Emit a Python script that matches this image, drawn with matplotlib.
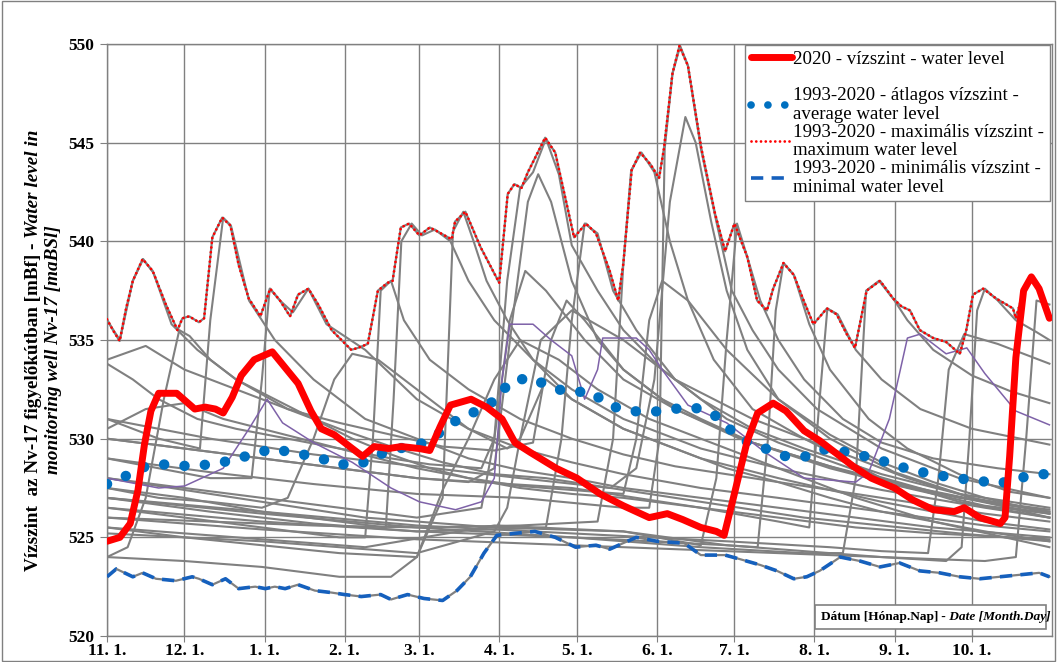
import numpy as np
import matplotlib
matplotlib.use("Agg")
import matplotlib.pyplot as plt
from matplotlib.lines import Line2D
from matplotlib.patches import Rectangle

GRAY = "#808080"; RED = "#FF0000"; BLUE = "#0070C0"; BLUE_MIN = "#1560BD"; PURPLE = "#7E62A8"
plt.rcParams.update({"font.family": "serif", "font.serif": ["Liberation Serif", "DejaVu Serif"]})

# x = day of the hydrological year (11.1. = 0)
MONTH_DAYS = [0, 30, 61, 92, 121, 152, 182, 213, 243, 274, 305, 335]
MONTH_LABELS = ["11. 1.", "12. 1.", "1. 1.", "2. 1.", "3. 1.", "4. 1.", "5. 1.", "6. 1.",
                "7. 1.", "8. 1.", "9. 1.", "10. 1."]

# 2020 water level
red_days = [0, 5, 9, 12, 14.5, 17, 20, 27, 30.5, 34, 38, 42, 45, 48.5, 52, 57, 64, 69, 74, 79, 83, 88,
            95, 99, 103.5, 109, 114, 121, 125, 129, 133, 141, 147, 153, 158, 164, 174, 182, 191, 200,
            210, 217, 223, 230, 236, 239, 242.6, 248, 252, 258, 263, 270, 276, 283, 289, 296, 305, 312,
            320, 328, 332, 338, 346, 347.8, 349.6, 352, 355, 358, 361, 365]
red_vals = [524.8, 525.0, 525.7, 527.4, 529.7, 531.4, 532.3, 532.3, 531.9, 531.5, 531.6, 531.5, 531.3,
            532.1, 533.2, 534.0, 534.4, 533.6, 532.8, 531.4, 530.5, 530.2, 529.5, 529.1, 529.6, 529.5,
            529.6, 529.5, 529.4, 530.6, 531.7, 532.0, 531.6, 531.0, 529.8, 529.3, 528.5, 528.0, 527.2,
            526.6, 526.0, 526.2, 525.9, 525.5, 525.3, 525.1, 527.0, 529.9, 531.3, 531.8, 531.4, 530.4,
            529.9, 529.2, 528.6, 528.0, 527.5, 526.9, 526.4, 526.3, 526.5, 526.0, 525.7, 526.0, 529.1,
            534.1, 537.5, 538.2, 537.6, 536.1]

# 1993-2020 average
avg_days = [0, 8, 15.8, 23.5, 31.8, 40, 48.5, 56, 64.5, 72.8, 81, 89, 97.8, 105.5, 113, 121, 129.6, 136,
            144, 151, 156, 164.4, 171.7, 179.5, 187.4, 194, 202.6, 211, 219, 227, 234.8, 241, 247, 255,
            263, 271, 278.8, 287, 295.5, 303.6, 311.6, 320, 328, 336.7, 345, 353, 361, 365]
avg_vals = [527.7, 528.15, 528.65, 528.7, 528.6, 528.7, 528.9, 529.2, 529.5, 529.25, 529.1, 528.7, 528.7,
            529.2, 529.5, 529.7, 530.35, 531.0, 531.45, 532.0, 532.9, 533.1, 532.6, 532.35, 532.4, 531.7,
            531.4, 531.35, 531.5, 531.6, 531.25, 530.5, 529.9, 529.5, 529.1, 529.1, 529.5, 529.3, 529.05,
            528.75, 528.4, 528.2, 528.0, 527.9, 527.7, 528.0, 528.2, 528.2]

# 1993-2020 maximum
max_days = [0, 2.3, 4.9, 7.4, 10, 13.8, 17.7, 22.8, 27.3, 29.2, 31.8, 35.6, 37.6, 40.8, 44.6, 47.8, 51,
            54.9, 59.4, 63.2, 67, 70.9, 74, 78, 81.8, 87, 90.8, 94.6, 97.2, 101, 104.9, 108.7, 110.6,
            113.8, 117, 121, 125, 128, 133.5, 134.8, 138.8, 144.7, 151.9, 155.2, 157.8, 160.5, 163,
            169.7, 173.6, 180.9, 185.5, 189.4, 194.7, 198, 200, 203.2, 206.5, 210.5, 213.8, 215.7, 219,
            221.7, 225, 230.2, 235.5, 239.4, 243, 248, 251.8, 255.6, 258, 262, 266, 269.8, 273.6, 278.8,
            282.6, 286.5, 289.7, 294.2, 299.4, 304.5, 307.7, 311, 314.8, 320, 325, 330.3, 332.8, 335.4,
            339.3, 344.4, 350.9, 352, 355, 358, 361, 365]
max_vals = [536.05, 535.5, 534.95, 536.6, 538.0, 539.1, 538.5, 536.8, 535.5, 536.1, 536.2, 535.9, 536.1,
            540.2, 541.2, 540.8, 538.8, 537.1, 536.2, 537.6, 537.0, 536.2, 537.3, 537.6, 536.8, 535.5,
            535.0, 534.5, 534.6, 534.8, 537.5, 537.9, 538.0, 540.7, 540.9, 540.3, 540.7, 540.5, 540.1,
            541.0, 541.5, 539.7, 537.9, 542.4, 542.9, 542.7, 543.5, 545.25, 544.5, 540.2, 540.9, 540.4,
            538.5, 537.0, 538.9, 543.6, 544.5, 543.9, 543.2, 544.7, 548.5, 549.9, 548.9, 544.7, 541.4,
            539.5, 540.9, 539.2, 537.0, 536.5, 537.6, 538.9, 538.3, 537.0, 535.8, 536.6, 536.3, 535.3,
            534.6, 537.5, 538.0, 537.1, 536.7, 536.5, 535.5, 535.1, 534.9, 534.3, 535.5, 537.3, 537.6,
            537.1, 536.6, 536.1, 537.5, 538.2, 537.6, 536.2]

# 1993-2020 minimum
min_days = [0, 3.6, 10, 13.8, 19, 26.7, 33, 35.6, 40.8, 45.9, 51, 57.4, 61.3, 65, 69, 74, 80.5, 87, 92,
            98.5, 106, 110, 116.4, 122.8, 130, 135.5, 140.7, 146, 151, 157.8, 165.7, 173.6, 181.5, 189.4,
            194.7, 205, 213, 223.6, 230, 239.4, 245, 253, 259.5, 266, 271, 276, 284, 291.6, 299.4, 307,
            314.8, 322.5, 330.3, 338, 345.7, 353.4, 361, 365]
min_vals = [523.0, 523.4, 523.0, 523.2, 522.9, 522.8, 523.0, 522.9, 522.6, 522.9, 522.4, 522.5, 522.4,
            522.5, 522.4, 522.6, 522.3, 522.2, 522.1, 522.0, 522.1, 521.85, 522.1, 521.9, 521.8, 522.3,
            523.0, 524.2, 525.1, 525.2, 525.3, 525.0, 524.5, 524.6, 524.4, 525.0, 524.8, 524.7, 524.1,
            524.1, 523.9, 523.6, 523.3, 522.9, 523.0, 523.3, 524.0, 523.8, 523.5, 523.7, 523.3, 523.2,
            523.0, 522.9, 523.0, 523.1, 523.2, 523.0]

# individual years 1993-2019 (gray)
g01_d = [0, 5, 10, 14, 18, 25, 35, 50, 70, 90, 110, 130, 150, 170, 190, 210, 240, 270, 300, 330, 365]
g01_v = [536.0, 535.0, 538.0, 539.1, 538.4, 535.8, 534.5, 533.0, 531.5, 530.5, 529.6, 528.8, 528.2, 528.0,
         527.6, 527.2, 526.6, 526.0, 525.6, 525.2, 524.8]
g02_d = [0, 20, 36, 40, 45, 48, 55, 65, 80, 100, 120, 140, 160, 180, 200, 230, 260, 290, 320, 365]
g02_v = [531.0, 530.0, 529.5, 536.0, 541.2, 540.8, 537.0, 535.0, 533.0, 531.0, 530.0, 529.0, 528.4, 528.0,
         527.5, 527.0, 526.5, 526.0, 525.5, 525.0]
g03_d = [0, 20, 40, 56, 60, 63, 67, 72, 78, 85, 100, 120, 140, 160, 180, 200, 230, 260, 300, 340, 365]
g03_v = [529.0, 528.5, 528.0, 528.0, 533.0, 537.6, 537.0, 536.4, 537.6, 535.8, 534.5, 532.0, 530.5, 529.5,
         528.8, 528.2, 527.5, 527.0, 526.3, 525.6, 525.3]
g04_d = [0, 30, 60, 90, 100, 103, 106, 110, 115, 125, 140, 160, 180, 200, 220, 250, 280, 310, 340, 365]
g04_v = [526.5, 526.0, 525.5, 525.0, 525.0, 530.0, 537.5, 538.0, 536.0, 534.0, 532.5, 531.0, 530.0, 529.2,
         528.6, 528.0, 527.4, 526.8, 526.2, 525.8]
g05_d = [0, 30, 60, 90, 108, 111, 114, 118, 122, 127, 133, 140, 150, 165, 180, 200, 230, 260, 300, 340, 365]
g05_v = [527.5, 527.0, 526.3, 525.8, 525.5, 532.0, 540.0, 540.9, 540.3, 540.6, 540.0, 538.0, 536.0, 534.0,
         532.5, 531.0, 529.5, 528.5, 527.4, 526.5, 526.0]
g06_d = [0, 30, 60, 90, 120, 130, 134, 138, 142, 147, 155, 165, 180, 200, 230, 260, 300, 340, 365]
g06_v = [525.5, 525.0, 524.6, 524.2, 524.0, 527.0, 540.5, 541.5, 540.0, 538.0, 536.0, 534.0, 532.0, 530.5,
         529.0, 528.0, 526.8, 525.8, 525.4]
g07_d = [0, 30, 60, 90, 120, 145, 150, 155, 160, 165, 170, 175, 180, 190, 200, 215, 230, 250, 270, 300, 330, 365]
g07_v = [528.0, 527.5, 527.0, 526.5, 526.0, 526.5, 530.0, 538.0, 542.7, 543.5, 545.2, 543.4, 539.8, 537.5,
         535.5, 533.5, 532.0, 530.5, 529.5, 528.2, 527.2, 526.5]
g08_d = [0, 30, 60, 90, 120, 140, 150, 157, 163, 167, 172, 180, 190, 200, 215, 230, 250, 280, 310, 340, 365]
g08_v = [530.0, 529.5, 529.0, 528.5, 528.0, 527.8, 528.5, 536.0, 542.0, 543.4, 542.0, 538.0, 535.0, 533.5,
         532.0, 531.0, 529.8, 528.5, 527.5, 526.6, 526.2]
g09_d = [0, 40, 80, 120, 150, 170, 176, 180, 185, 190, 196, 205, 220, 240, 260, 290, 320, 350, 365]
g09_v = [527.0, 526.3, 525.7, 525.3, 525.4, 525.5, 530.0, 536.0, 540.9, 540.4, 537.5, 535.5, 533.0, 531.0,
         529.8, 528.4, 527.3, 526.5, 526.2]
g10_d = [0, 40, 80, 120, 160, 190, 196, 200, 203, 207, 212, 218, 225, 235, 250, 270, 300, 330, 365]
g10_v = [526.0, 525.8, 525.6, 525.5, 525.6, 525.8, 530.0, 538.9, 543.6, 544.5, 543.5, 540.0, 537.0, 534.0,
         531.5, 530.0, 528.0, 526.8, 526.0]
g11_d = [0, 40, 80, 120, 160, 200, 210, 214, 216, 219, 222, 225, 230, 236, 242, 250, 260, 275, 300, 330, 365]
g11_v = [529.0, 528.3, 527.7, 527.2, 527.0, 526.5, 526.5, 530.0, 544.7, 548.5, 549.9, 548.9, 544.7, 541.0,
         537.5, 535.5, 533.5, 531.5, 529.5, 528.0, 527.0]
g12_d = [0, 40, 80, 120, 160, 195, 205, 212, 218, 224, 228, 234, 240, 248, 260, 280, 305, 335, 365]
g12_v = [531.0, 530.0, 529.2, 528.6, 528.0, 527.5, 528.5, 533.0, 542.0, 546.3, 545.0, 541.0, 537.5, 534.5,
         532.0, 530.0, 528.3, 527.0, 526.3]
g13_d = [0, 50, 100, 150, 200, 230, 236, 240, 244, 248, 253, 260, 270, 285, 300, 320, 345, 365]
g13_v = [525.5, 525.0, 524.5, 525.6, 525.3, 524.6, 528.0, 535.0, 540.9, 539.2, 537.0, 535.0, 533.0, 531.0,
         529.8, 529.0, 528.5, 528.2]
g14_d = [0, 50, 100, 150, 200, 240, 252, 256, 259, 262, 266, 272, 280, 295, 310, 330, 350, 365]
g14_v = [528.0, 527.0, 526.0, 525.5, 525.3, 524.6, 524.5, 530.0, 536.5, 538.9, 538.3, 535.8, 533.5, 531.0,
         529.5, 528.2, 527.3, 527.0]
g15_d = [0, 60, 120, 180, 230, 260, 272, 276, 279, 283, 290, 300, 315, 335, 365]
g15_v = [530.0, 529.0, 528.0, 527.5, 526.5, 525.8, 525.5, 532.0, 536.6, 536.3, 534.5, 533.0, 531.5, 530.5,
         529.7]
g16_d = [0, 60, 120, 180, 230, 270, 285, 290, 294, 299, 305, 310, 320, 335, 350, 365]
g16_v = [527.0, 526.2, 525.5, 525.0, 524.5, 524.2, 524.2, 528.0, 537.5, 538.0, 537.0, 536.0, 534.5, 533.2,
         532.4, 531.8]
g17_d = [0, 60, 120, 180, 240, 300, 325, 331, 334, 337, 340, 345, 352, 360, 365]
g17_v = [526.5, 525.8, 525.3, 525.0, 524.6, 524.0, 523.8, 524.5, 530.0, 536.5, 537.6, 537.0, 536.0, 535.4,
         535.0]
g18_d = [0, 60, 120, 180, 240, 300, 340, 352, 356, 360, 365]
g18_v = [526.0, 525.4, 524.9, 524.6, 524.3, 524.0, 523.8, 524.0, 530.0, 537.0, 536.8]
g20_d = [0, 15, 30, 50, 70, 90, 110, 130, 150, 165, 172, 178, 185, 200, 220, 250, 280, 310, 340, 365]
g20_v = [534.0, 534.7, 533.5, 532.5, 531.5, 530.8, 530.2, 529.6, 529.4, 529.8, 535.0, 537.0, 536.0, 533.5,
         531.5, 529.8, 528.6, 527.6, 526.8, 526.3]
g21_d = [0, 10, 20, 35, 50, 70, 90, 110, 125, 145, 150, 156, 162, 170, 185, 200, 220, 245, 270, 300, 330, 365]
g21_v = [533.8, 533.0, 532.0, 531.0, 530.5, 530.0, 529.5, 529.0, 528.7, 528.5, 530.0, 536.0, 538.5, 537.5,
         535.0, 533.0, 531.5, 530.0, 529.0, 527.8, 527.0, 526.4]
g22_d = [0, 8, 15, 22, 28, 32, 40, 50, 65, 80, 95, 110, 125, 140, 160, 180, 200, 230, 260, 290, 320, 365]
g22_v = [524.0, 524.5, 527.0, 532.0, 535.5, 535.2, 534.0, 533.0, 532.0, 531.0, 530.0, 529.2, 528.5, 528.0,
         527.5, 527.2, 527.0, 526.5, 526.0, 525.5, 525.2, 524.9]
g23_d = [0, 30, 60, 90, 110, 120, 130, 140, 150, 160, 175, 190, 210, 230, 260, 290, 320, 365]
g23_v = [524.0, 523.8, 523.5, 523.0, 523.0, 524.0, 527.4, 530.0, 533.0, 535.0, 534.0, 532.5, 531.0, 530.0,
         528.5, 527.0, 525.8, 524.5]
g24_d = [0, 20, 40, 60, 70, 80, 88, 95, 105, 120, 140, 155, 160, 168, 180, 200, 220, 250, 280, 310, 340, 365]
g24_v = [527.5, 527.0, 526.8, 526.5, 527.0, 530.0, 533.0, 534.3, 534.0, 532.5, 530.5, 529.5, 530.0, 535.0,
         536.5, 535.0, 533.0, 531.0, 529.5, 528.0, 526.8, 526.0]
g25_d = [0, 15, 30, 45, 60, 75, 90, 105, 120, 140, 160, 180, 200, 205, 210, 215, 225, 240, 260, 280, 300,
         320, 340, 365]
g25_v = [530.5, 531.5, 531.8, 531.0, 530.5, 530.0, 529.5, 529.0, 528.5, 528.0, 527.6, 527.4, 527.2, 530.0,
         536.0, 538.0, 537.0, 534.5, 532.0, 530.2, 528.8, 527.8, 527.0, 526.2]
g26_d = [0, 30, 60, 90, 120, 150, 155, 160, 170, 180, 200, 220, 240, 260, 280, 300, 320, 340, 365]
g26_v = [525.2, 525.0, 524.8, 524.5, 524.2, 525.3, 526.5, 530.0, 533.0, 532.0, 530.5, 529.5, 528.5, 527.8,
         527.0, 526.3, 525.8, 525.3, 524.8]
g28_d = [0, 60, 120, 180, 240, 280, 300, 318, 322, 326, 332, 345, 365]
g28_v = [527.0, 526.3, 525.6, 525.2, 524.8, 524.5, 524.3, 524.2, 528.0, 533.5, 535.3, 534.8, 533.8]
# one year drawn in purple
pur_d = [0, 20, 30, 45, 55, 62, 68, 80, 95, 110, 121, 135, 145, 150, 153, 156, 165, 172, 180, 185, 190, 192,
         205, 210, 215, 225, 240, 255, 270, 290, 295, 303, 310, 315, 325, 333, 340, 352, 365]
pur_v = [528.0, 527.5, 527.6, 528.5, 530.5, 532.0, 530.8, 529.8, 528.8, 527.5, 526.8, 526.4, 526.8, 528.0,
         533.0, 535.8, 535.8, 535.0, 534.2, 532.0, 533.5, 535.1, 535.1, 534.5, 533.5, 531.7, 530.8, 529.3,
         528.0, 527.8, 528.3, 531.0, 535.1, 535.3, 534.3, 534.6, 533.3, 531.4, 530.7]

gray_years = [(g01_d, g01_v), (g02_d, g02_v), (g03_d, g03_v), (g04_d, g04_v), (g05_d, g05_v),
              (g06_d, g06_v), (g07_d, g07_v), (g08_d, g08_v), (g09_d, g09_v), (g10_d, g10_v),
              (g11_d, g11_v), (g12_d, g12_v), (g13_d, g13_v), (g14_d, g14_v), (g15_d, g15_v),
              (g16_d, g16_v), (g17_d, g17_v), (g18_d, g18_v), (g20_d, g20_v), (g21_d, g21_v),
              (g22_d, g22_v), (g23_d, g23_v), (g24_d, g24_v), (g25_d, g25_v), (g26_d, g26_v),
              (g28_d, g28_v)]

W, H = 1057, 662
fig = plt.figure(figsize=(W / 100, H / 100), dpi=100)
ax = fig.add_axes([107 / W, 1 - 636 / H, (1052 - 107) / W, (636 - 44) / H])

for d, v in gray_years:
    ax.plot(d, v, color=GRAY, lw=1.5, zorder=2, solid_joinstyle="round")
ax.plot(pur_d, pur_v, color=PURPLE, lw=1.1, zorder=2.2)

# envelopes: gray year line underneath, styled series on top
ax.plot(max_days, max_vals, color=GRAY, lw=1.6, zorder=3)
ax.plot(max_days, max_vals, color=RED, lw=2.0, ls=(0, (0.01, 1.7)), dash_capstyle="round", zorder=3.1)
ax.plot(min_days, min_vals, color=GRAY, lw=1.6, zorder=3)
ax.plot(min_days, min_vals, color=BLUE_MIN, lw=2.6, ls=(0, (3.4, 2.3)), zorder=3.1)
ax.plot(avg_days, avg_vals, color=BLUE, lw=7.5, ls=(0, (0.01, 1.95)), dash_capstyle="round", zorder=4)
ax.plot(red_days, red_vals, color=RED, lw=5.0, solid_capstyle="round", solid_joinstyle="round", zorder=5)

ax.set_xlim(0, 366)
ax.set_ylim(520, 550)
ax.set_xticks(MONTH_DAYS)
ax.set_xticklabels(MONTH_LABELS)
ax.set_yticks(np.arange(520, 551, 5))
ax.grid(True, color=GRAY, lw=1.0, zorder=0)
ax.set_axisbelow(True)
for s in ax.spines.values():
    s.set_color(GRAY); s.set_linewidth(1.0)
ax.tick_params(axis="y", direction="out", length=5, color=GRAY, labelsize=12.5, pad=4)
ax.tick_params(axis="x", direction="out", length=4, color=GRAY, labelsize=12.5, pad=1)
for lab in ax.get_xticklabels() + ax.get_yticklabels():
    lab.set_fontweight("bold")

# y label: bold + bold italic, two lines, rotated
fig.canvas.draw()
r = fig.canvas.get_renderer()
cy = 1 - 350 / H
ta = fig.text(34 / W, 0, "Vízszint  az Nv-17 figyelőkútban [mBf] - ", rotation=90, fontsize=13.8,
              fontweight="bold", ha="center", va="bottom")
tb = fig.text(34 / W, 0, "Water level in", rotation=90, fontsize=13.8, fontweight="bold",
              fontstyle="italic", ha="center", va="bottom")
la = ta.get_window_extent(r).height / H
lb = tb.get_window_extent(r).height / H
ta.set_y(cy - (la + lb) / 2)
tb.set_y(cy - (la + lb) / 2 + la)
fig.text(54 / W, cy, "monitoring well Nv-17 [maBSl]", rotation=90, fontsize=13.8, fontweight="bold",
         fontstyle="italic", ha="center", va="center")

# date caption box
fig.patches.append(Rectangle((815 / W, 1 - 629 / H), (1046 - 815) / W, 24 / H, transform=fig.transFigure,
                             facecolor="white", edgecolor=GRAY, lw=1.2, zorder=6))
tc = fig.text(821 / W, 1 - 617 / H, "Dátum [Hónap.Nap]", fontsize=9.6, fontweight="bold",
              ha="left", va="center", zorder=7)
wc = tc.get_window_extent(r).width / W
fig.text(821 / W + wc, 1 - 617 / H, " - Date [Month.Day]", fontsize=9.6, fontweight="bold",
         fontstyle="italic", ha="left", va="center", zorder=7)

# legend
handles = [Line2D([], [], color=RED, lw=5.0, solid_capstyle="round"),
           Line2D([], [], color="none"),
           Line2D([], [], color=BLUE, lw=5.5, ls=(0, (0.01, 2.2)), dash_capstyle="round"),
           Line2D([], [], color=RED, lw=2.0, ls=(0, (0.01, 1.7)), dash_capstyle="round"),
           Line2D([], [], color=BLUE_MIN, lw=2.6, ls=(0, (3.4, 2.3)))]
labels = ["2020 - vízszint - water level", "",
          "1993-2020 - átlagos vízszint -\naverage water level",
          "1993-2020 - maximális vízszint -\nmaximum water level",
          "1993-2020 - minimális vízszint -\nminimal water level"]
leg = ax.legend(handles, labels, loc="upper right", bbox_to_anchor=(1050 / W, 1 - 45 / H),
                bbox_transform=fig.transFigure, borderaxespad=0, fontsize=13.6, frameon=True,
                fancybox=False, edgecolor=GRAY, framealpha=1, handlelength=2.15, handletextpad=0.1,
                labelspacing=0.05, borderpad=0.3)
for t in leg.get_texts():
    t.set_linespacing(1.12)
leg.get_frame().set_linewidth(1.0)
leg.set_zorder(8)

fig.patches.append(Rectangle((0.002, 0.002), 0.996, 0.996, transform=fig.transFigure,
                             fill=False, edgecolor=GRAY, lw=1.0))
fig.savefig("out.png", dpi=100, facecolor="white")
